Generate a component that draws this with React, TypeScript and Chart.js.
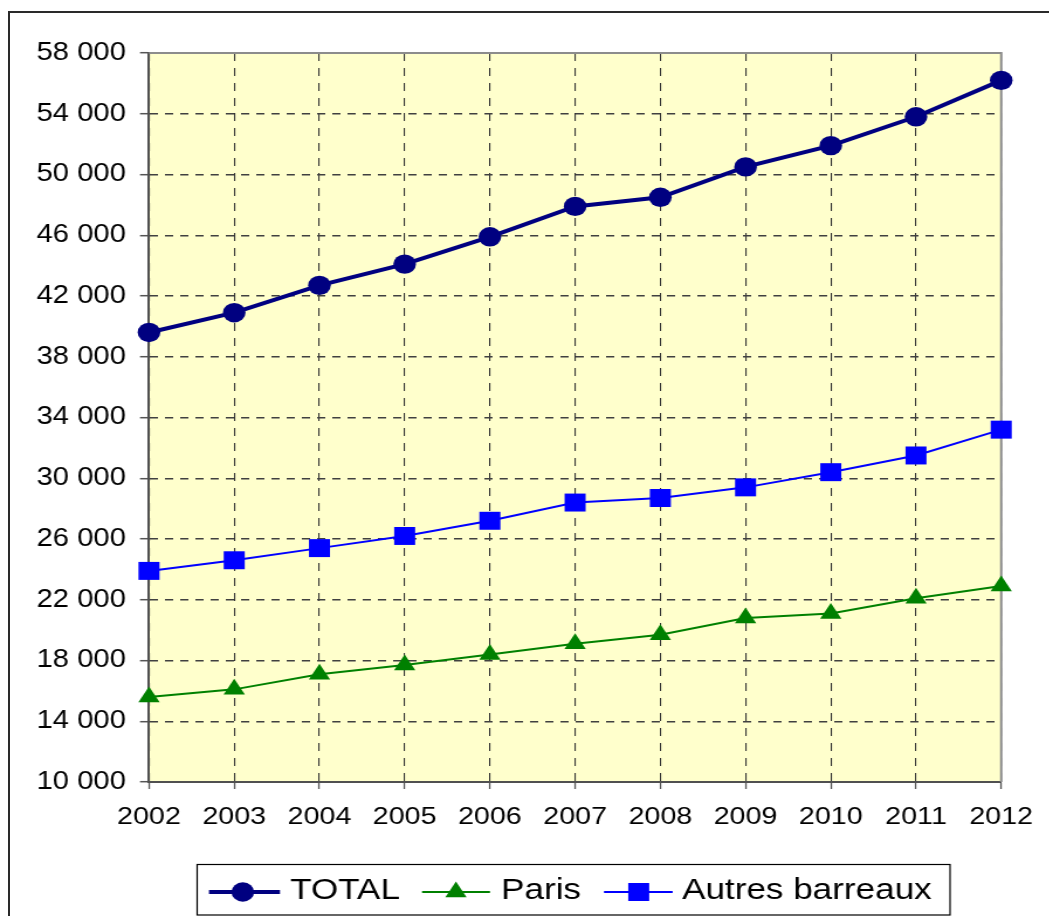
import React, { useEffect, useRef } from 'react';
import { Chart, registerables } from 'chart.js';

Chart.register(...registerables);

// Data
const years = ['2002', '2003', '2004', '2005', '2006', '2007', '2008', '2009', '2010', '2011', '2012'];
const totalValues = [39600, 40900, 42700, 44100, 45900, 47900, 48500, 50500, 51900, 53800, 56200];
const parisValues = [15600, 16100, 17100, 17700, 18400, 19100, 19700, 20800, 21100, 22100, 22900];
const autresValues = [23900, 24600, 25400, 26200, 27200, 28400, 28700, 29400, 30400, 31500, 33200];
const seriesNames = ['TOTAL', 'Paris', 'Autres barreaux'];
const yMin = 10000;
const yMax = 58000;
const yStep = 4000;

// Drawing surface (the canvas is widened horizontally by STRETCH)
const STRETCH = 1.17;
const CANVAS_W = 897;
const CANVAS_H = 916;
const FONT = "'Liberation Sans', Arial, Helvetica, sans-serif";

const formatThousands = (v: number) => String(v).replace(/\B(?=(\d{3})+(?!\d))/g, ' ');

const plotFrame = {
  id: 'plotFrame',
  beforeDraw(chart: any) {
    const { ctx, chartArea: a } = chart;
    ctx.save();
    ctx.fillStyle = '#FFFFCC';
    ctx.fillRect(a.left, a.top, a.right - a.left, a.bottom - a.top);
    ctx.restore();
  },
  beforeDatasetsDraw(chart: any) {
    const { ctx, chartArea: a } = chart;
    ctx.save();
    ctx.strokeStyle = '#8c8c8c';
    ctx.lineWidth = 2;
    ctx.beginPath();
    ctx.moveTo(a.left, a.top);
    ctx.lineTo(a.right, a.top);
    ctx.lineTo(a.right, a.bottom);
    ctx.stroke();
    ctx.restore();
  },
};

function drawMarker(ctx: CanvasRenderingContext2D, style: string, x: number, y: number, r: number, color: string) {
  ctx.fillStyle = color;
  ctx.beginPath();
  if (style === 'circle') {
    ctx.arc(x, y, r, 0, Math.PI * 2);
  } else if (style === 'rect') {
    const s = r * Math.SQRT1_2;
    ctx.rect(x - s, y - s, 2 * s, 2 * s);
  } else if (style === 'triangle') {
    ctx.moveTo(x, y - r);
    ctx.lineTo(x + r * Math.sin(Math.PI / 3), y + r / 2);
    ctx.lineTo(x - r * Math.sin(Math.PI / 3), y + r / 2);
    ctx.closePath();
  }
  ctx.fill();
}

// Boxed legend below the plot
const boxLegend = {
  id: 'boxLegend',
  afterDraw(chart: any) {
    const ctx: CanvasRenderingContext2D = chart.ctx;
    const slots = [
      { x0: 178.6, x1: 239.3, mx: 207.5, tx: 247.9 },
      { x0: 360.7, x1: 418.8, mx: 389.7, tx: 428.2 },
      { x0: 516.2, x1: 574.9, mx: 545.9, tx: 582.9 },
    ];
    const rowY = 892;
    ctx.save();
    ctx.strokeStyle = '#000';
    ctx.lineWidth = 1.2;
    ctx.strokeRect(168.5, 864.5, 643.5, 50.5);
    chart.data.datasets.forEach((ds: any, i: number) => {
      const s = slots[i];
      ctx.strokeStyle = ds.borderColor;
      ctx.lineWidth = ds.borderWidth;
      ctx.beginPath();
      ctx.moveTo(s.x0, rowY);
      ctx.lineTo(s.x1, rowY);
      ctx.stroke();
      drawMarker(ctx, ds.pointStyle, s.mx, rowY, ds.pointRadius, ds.pointBackgroundColor);
      ctx.fillStyle = '#000';
      ctx.font = `30px ${FONT}`;
      ctx.textBaseline = 'alphabetic';
      ctx.textAlign = 'left';
      ctx.fillText(ds.label, s.tx, 899);
    });
    ctx.restore();
  },
};

export default function App() {
  const canvasRef = useRef<HTMLCanvasElement | null>(null);

  useEffect(() => {
    if (!canvasRef.current) return;
    const chart = new Chart(canvasRef.current, {
      type: 'line',
      data: {
        labels: years,
        datasets: [
          {
            label: seriesNames[0],
            data: totalValues,
            borderColor: '#000080',
            backgroundColor: '#000080',
            pointBackgroundColor: '#000080',
            pointBorderColor: '#000080',
            borderWidth: 4,
            pointStyle: 'circle',
            pointRadius: 9.7,
            pointBorderWidth: 0,
            tension: 0,
            clip: false,
          },
          {
            label: seriesNames[1],
            data: parisValues,
            borderColor: '#008000',
            backgroundColor: '#008000',
            pointBackgroundColor: '#008000',
            pointBorderColor: '#008000',
            borderWidth: 2,
            pointStyle: 'triangle',
            pointRadius: 10.5,
            pointBorderWidth: 0,
            tension: 0,
            clip: false,
          },
          {
            label: seriesNames[2],
            data: autresValues,
            borderColor: '#0000FF',
            backgroundColor: '#0000FF',
            pointBackgroundColor: '#0000FF',
            pointBorderColor: '#0000FF',
            borderWidth: 2,
            pointStyle: 'rect',
            pointRadius: 12.7,
            pointBorderWidth: 0,
            tension: 0,
            clip: false,
          },
        ],
      },
      options: {
        responsive: false,
        animation: false,
        devicePixelRatio: 1,
        layout: { padding: { left: 0, top: 53, right: 39.7, bottom: 74 } },
        plugins: {
          legend: { display: false },
          tooltip: { enabled: false },
          title: { display: false },
        },
        scales: {
          x: {
            type: 'category',
            offset: false,
            afterFit: (scale: any) => {
              scale.height = 60;
            },
            grid: {
              color: '#333333',
              lineWidth: 1.1,
              drawTicks: true,
              tickLength: 7,
              tickColor: '#555555',
              tickWidth: 1.3,
              offset: false,
            },
            border: { display: true, color: '#505050', width: 2, dash: [8, 7] },
            ticks: {
              color: '#000',
              font: { family: FONT, size: 24.5 },
              padding: 14,
              maxRotation: 0,
              autoSkip: false,
            },
          },
          y: {
            type: 'linear',
            min: yMin,
            max: yMax,
            afterFit: (scale: any) => {
              scale.width = 127.35;
            },
            grid: {
              color: '#404040',
              lineWidth: 1.4,
              drawTicks: true,
              tickLength: 7.7,
              tickColor: '#555555',
              tickWidth: 1.5,
            },
            border: { display: true, color: '#505050', width: 2, dash: [7, 6] },
            ticks: {
              stepSize: yStep,
              color: '#000',
              font: { family: FONT, size: 25 },
              padding: 12,
              autoSkip: false,
              callback: (v: any) => formatThousands(Number(v)),
            },
          },
        },
      },
      plugins: [plotFrame, boxLegend],
    });
    return () => chart.destroy();
  }, []);

  return (
    <div
      style={{
        position: 'absolute',
        left: 0,
        top: 0,
        width: 1049,
        height: 916,
        overflow: 'hidden',
        background: '#ffffff',
      }}
    >
      <div
        style={{
          position: 'absolute',
          left: 8,
          top: 11,
          width: 1041,
          height: 905,
          borderLeft: '2px solid #2a2a2a',
          borderTop: '2px solid #2a2a2a',
          boxSizing: 'border-box',
        }}
      />
      <div
        style={{
          position: 'absolute',
          left: 0,
          top: 0,
          width: CANVAS_W,
          height: CANVAS_H,
          transform: `scaleX(${STRETCH})`,
          transformOrigin: '0 0',
        }}
      >
        <canvas ref={canvasRef} width={CANVAS_W} height={CANVAS_H} />
      </div>
    </div>
  );
}
